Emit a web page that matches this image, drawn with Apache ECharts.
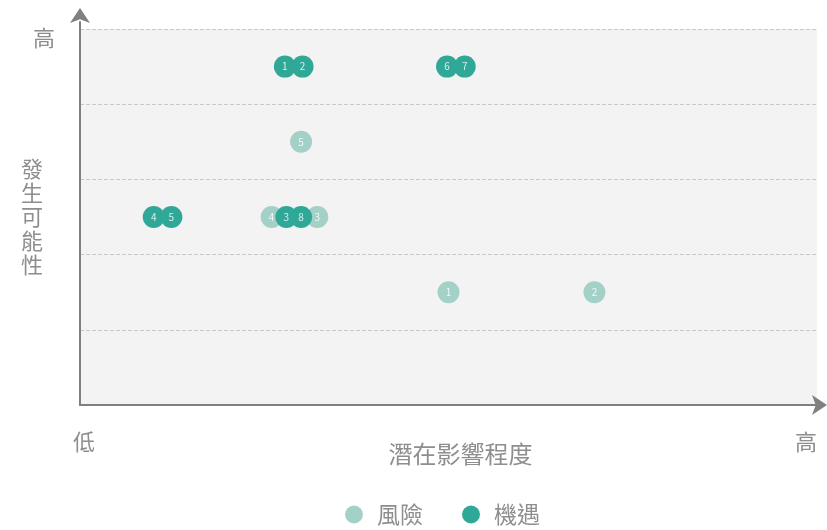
<!DOCTYPE html>
<html>
<head>
<meta charset="utf-8">
<script src="https://cdn.jsdelivr.net/npm/echarts@6/dist/echarts.min.js"></script>
<style>
html, body { margin: 0; padding: 0; background: #fff; }
#main { width: 827px; height: 530px; }
</style>
</head>
<body>
<div id="main"></div>
<script>
// 風險 / 機遇 data (x = 潛在影響程度, y = 發生可能性)
var riskLabels = ['1', '2', '3', '4', '5'];
var riskX = [2.5, 3.49, 1.61, 1.3, 1.5];
var riskY = [1.5, 1.5, 2.5, 2.5, 3.5];

var oppLabels = ['1', '2', '3', '4', '5', '6', '7', '8'];
var oppX = [1.39, 1.51, 1.4, 0.5, 0.62, 2.49, 2.61, 1.5];
var oppY = [4.5, 4.5, 2.5, 2.5, 2.5, 4.5, 4.5, 2.5];

var xEndLabels = ['低', '高'];
var yTopLabel = '高';

var font = '"Noto Sans CJK TC", "Noto Sans", sans-serif';
var textColor = '#8e8e8e';
var axisColor = '#808080';

function toPoints(xs, ys, labels) {
    var out = [];
    for (var i = 0; i < xs.length; i++) {
        out.push({ value: [xs[i], ys[i]], name: labels[i] });
    }
    return out;
}

var dom = document.getElementById('main');
var myChart = echarts.init(dom);
var option = {
    animation: false,
    textStyle: { fontFamily: font },
    color: ['#a3d1c7', '#30a898'],
    grid: [{
        left: 80,
        right: 10,
        top: 29,
        bottom: 125,
        show: true,
        backgroundColor: '#f3f3f3',
        borderWidth: 0
    }, {
        // only carries the longer vertical axis line with its arrow
        left: 80,
        right: 10,
        top: 22,
        bottom: 125,
        show: false
    }],
    legend: {
        data: ['風險', '機遇'],
        icon: 'circle',
        left: 340,
        top: 498,
        itemWidth: 18,
        itemHeight: 18,
        itemGap: 39,
        textStyle: {
            color: textColor,
            fontSize: 23,
            fontFamily: font,
            padding: [0, 0, 0, 9]
        }
    },
    xAxis: [{
        gridIndex: 0,
        type: 'value',
        min: 0,
        max: 5,
        interval: 5,
        name: '潛在影響程度',
        nameLocation: 'middle',
        nameGap: 37,
        nameMoveOverlap: false,
        nameTextStyle: {
            color: textColor,
            fontSize: 24,
            fontFamily: font,
            padding: [0, 0, 0, 24]
        },
        axisLine: {
            show: true,
            symbol: ['none', 'arrow'],
            symbolSize: [15, 15],
            symbolOffset: [0, 10],
            lineStyle: { color: axisColor, width: 2 }
        },
        axisTick: { show: false },
        splitLine: { show: false },
        axisLabel: {
            show: true,
            margin: 26,
            color: textColor,
            fontSize: 22,
            fontFamily: font,
            alignMaxLabel: 'right',
            padding: [0, 0, 0, 8],
            formatter: function (v) {
                if (v === 0) return xEndLabels[0];
                if (v === 5) return xEndLabels[1];
                return '';
            }
        }
    }, {
        gridIndex: 1,
        type: 'value',
        min: 0,
        max: 5,
        show: false
    }],
    yAxis: [{
        gridIndex: 0,
        type: 'value',
        min: 0,
        max: 5,
        interval: 1,
        name: '發\n生\n可\n能\n性',
        nameLocation: 'middle',
        nameRotate: 0,
        nameGap: 37,
        nameMoveOverlap: false,
        nameTextStyle: {
            color: textColor,
            fontSize: 22,
            lineHeight: 24,
            fontFamily: font
        },
        axisLine: { show: false },
        axisTick: { show: false },
        splitLine: {
            show: true,
            lineStyle: { color: '#c8c8c8', type: 'dashed', width: 1 }
        },
        axisLabel: {
            show: true,
            margin: 25,
            color: textColor,
            fontSize: 22,
            lineHeight: 17,
            fontFamily: font,
            verticalAlign: 'top',
            formatter: function (v) {
                return v === 5 ? yTopLabel : '';
            }
        }
    }, {
        gridIndex: 1,
        type: 'value',
        min: 0,
        max: 1,
        axisLine: {
            show: true,
            symbol: ['none', 'arrow'],
            symbolSize: [15, 15],
            symbolOffset: [0, 14],
            lineStyle: { color: axisColor, width: 2 }
        },
        axisTick: { show: false },
        axisLabel: { show: false },
        splitLine: { show: false }
    }],
    series: [
        {
            name: '風險',
            type: 'scatter',
            symbol: 'circle',
            symbolSize: 22,
            itemStyle: { opacity: 1 },
            data: toPoints(riskX, riskY, riskLabels),
            label: {
                show: true,
                position: 'inside',
                formatter: '{b}',
                color: 'rgba(255,255,255,0.85)',
                fontSize: 10,
                fontFamily: font
            }
        },
        {
            name: '機遇',
            type: 'scatter',
            symbol: 'circle',
            symbolSize: 22,
            itemStyle: { opacity: 1 },
            data: toPoints(oppX, oppY, oppLabels),
            label: {
                show: true,
                position: 'inside',
                formatter: '{b}',
                color: 'rgba(255,255,255,0.8)',
                fontSize: 10,
                fontFamily: font
            }
        }
    ]
};
myChart.setOption(option, true);
</script>
</body>
</html>
